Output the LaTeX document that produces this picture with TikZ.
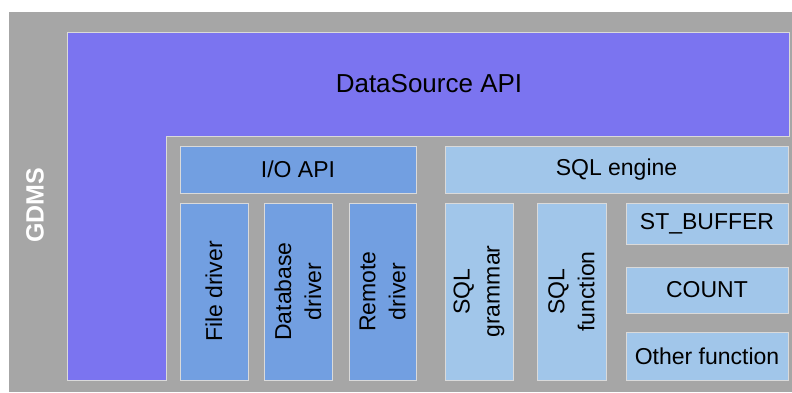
\documentclass[tikz,border=0pt]{standalone}
\usepackage{fontspec}
\setmainfont{Liberation Sans}
\definecolor{gdmsgray}{HTML}{A6A6A6}
\definecolor{dsviolet}{HTML}{7B74F0}
\definecolor{ioblue}{HTML}{729FE1}
\definecolor{sqlblue}{HTML}{A1C6EA}
\definecolor{boxline}{HTML}{DADADA}
\begin{document}
\begin{tikzpicture}[x=1pt,y=-1pt,
        box/.style = {draw=boxline, line width=1pt,
            inner sep=0pt, outer sep=0pt, align=center,
            font=\fontsize{23}{30}\selectfont,
        },
        io/.style = {box, fill=ioblue},
        sql/.style = {box, fill=sqlblue},
        vert/.style = {rotate=90, minimum width=177pt}]

        \useasboundingbox (0,0) rectangle (792,392);

        % GDMS background
        \fill[gdmsgray] (9,12) rectangle (792,392);
        \node[rotate=90, text=white, font=\fontsize{25}{30}\selectfont\bfseries] (gdms) at (35,205) {GDMS};

        % DataSource API
        \draw[fill=dsviolet, draw=boxline, line width=1pt]
            (67,32) -- (789,32) -- (789,136) -- (166,136) -- (166,380) -- (67,380) -- cycle;
        \node[font=\fontsize{26}{30}\selectfont] (dsapi) at (429,84) {DataSource API};

        % I/O API
        \node[io, minimum width=236pt, minimum height=47pt] (io) at (298,169.5) {I/O API};
        \node[io, vert, minimum height=68pt] (filedrv) at (214,291.5) {File driver};
        \node[io, vert, minimum height=68pt] (dbdrv) at (298,291.5) {Database\\driver};
        \node[io, vert, minimum height=67pt] (remotedrv) at (382.5,291.5) {Remote\\driver};

        % SQL engine
        \node[sql, minimum width=343pt, minimum height=47pt] (engine) at (616.5,169.5) {SQL engine};
        \node[sql, vert, minimum height=68pt] (grammar) at (479,291.5) {SQL\\grammar};
        \node[sql, vert, minimum height=69pt] (sqlfunc) at (571.5,291.5) {SQL\\function};

        % Functions
        \node[sql, minimum width=162pt, minimum height=41pt] (stbuffer) at (707,223.5) {ST\_BUFFER};
        \node[sql, minimum width=162pt, minimum height=46pt] (count) at (707,290) {COUNT};
        \node[sql, minimum width=162pt, minimum height=48pt] (otherfunc) at (707,356) {Other function};

    \end{tikzpicture}
\end{document}
